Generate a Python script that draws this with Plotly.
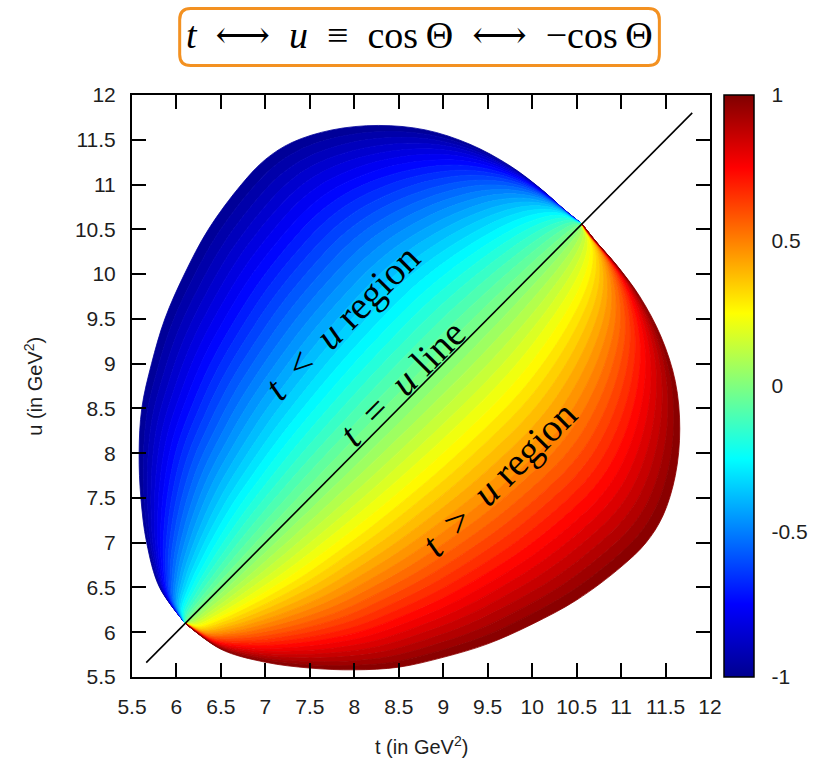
import numpy as np
import plotly.graph_objects as go
import plotly.colors as pcolors

# ---- data ----------------------------------------------------------------
# boundary of the kinematic region, t<u lobe (from lower corner to upper corner);
# the t>u lobe is its mirror image (t <-> u symmetry of the plot)
edge_t = [6.10, 5.81, 5.665, 5.60, 5.58, 5.61, 5.72, 5.87, 6.09, 6.36, 6.73, 7.00,
          7.30, 7.75, 8.27, 8.80, 9.30, 9.75, 10.10, 10.35, 10.56]
edge_u = [6.10, 6.50, 7.00, 7.50, 8.00, 8.50, 9.00, 9.50, 10.00, 10.50, 11.00, 11.28,
          11.47, 11.61, 11.66, 11.61, 11.45, 11.21, 10.95, 10.73, 10.56]

# t = u line end points
diag_t = [5.66, 11.80]
diag_u = [5.66, 11.80]

axis_ticks = [5.5, 6, 6.5, 7, 7.5, 8, 8.5, 9, 9.5, 10, 10.5, 11, 11.5, 12]
cbar_vals = [-1, -0.5, 0, 0.5, 1]
cbar_text = ["-1", "-0.5", "0", "0.5", "1"]
n_levels = 50   # number of colour bands of cos(Theta) drawn (pm3d-like)

# ---- cos(Theta) is linear in (t-u) across each line of constant t+u -----------
edge_p = (np.array(edge_t) + np.array(edge_u)) / 2.0   # position along the diagonal
edge_w = (np.array(edge_u) - np.array(edge_t)) / 2.0   # half width of the region

jet = [[0.0, "rgb(0,0,143)"], [0.125, "rgb(0,0,255)"], [0.375, "rgb(0,255,255)"],
       [0.625, "rgb(255,255,0)"], [0.875, "rgb(255,0,0)"], [1.0, "rgb(128,0,0)"]]

levels = np.linspace(-1.0, 1.0, n_levels + 1)
mids = (levels[:-1] + levels[1:]) / 2.0
band_colors = pcolors.sample_colorscale(jet, list((mids + 1.0) / 2.0))

fig = go.Figure()
for k in range(n_levels):
    c0, c1 = levels[k], levels[k + 1]
    # curve of constant cos = c :  t = p + c*w ,  u = p - c*w
    fx = edge_p + c0 * edge_w
    fy = edge_p - c0 * edge_w
    bx = (edge_p + c1 * edge_w)[::-1]
    by = (edge_p - c1 * edge_w)[::-1]
    xs = np.concatenate([fx, bx[1:]])
    ys = np.concatenate([fy, by[1:]])
    fig.add_trace(go.Scatter(
        x=xs, y=ys, mode="lines", fill="toself", fillcolor=band_colors[k],
        line=dict(color=band_colors[k], width=0.8, shape="spline", smoothing=1.0),
        hoverinfo="skip", showlegend=False))

# colour scale (colour box) of cos(Theta)
fig.add_trace(go.Scatter(
    x=diag_t[:1], y=diag_u[:1], mode="markers", hoverinfo="skip", showlegend=False,
    marker=dict(color=[0], cmin=-1, cmax=1, colorscale=jet, showscale=True, opacity=0,
                size=1,
                colorbar=dict(
                    x=1.0246, xanchor="left", xpad=0, y=0.5, yanchor="middle", len=1.0,
                    ypad=0, thickness=30, outlinewidth=1.5, outlinecolor="black",
                    tickvals=cbar_vals, ticktext=cbar_text, ticks="outside", ticklen=13,
                    tickcolor="rgba(0,0,0,0)",
                    tickfont=dict(family="Liberation Sans, Arial, sans-serif", size=21,
                                  color="#1e1e1e")))))

fig.add_trace(go.Scatter(x=diag_t, y=diag_u, mode="lines",
                         line=dict(color="black", width=1.6), hoverinfo="skip",
                         showlegend=False))

axis_common = dict(
    range=[5.5, 12], tickvals=axis_ticks, ticks="inside", ticklen=14, tickwidth=2,
    tickcolor="black", showline=True, linewidth=2, linecolor="black", mirror="ticks",
    showgrid=False, zeroline=False, ticklabelstandoff=10,
    tickfont=dict(family="Liberation Sans, Arial, sans-serif", size=21, color="#1e1e1e"),
)
fig.update_xaxes(**axis_common)
fig.update_yaxes(**axis_common)

serif = "Liberation Serif, DejaVu Serif, serif"
nb = "\u00a0"
ts = "\u2009"
annotations = [
    dict(text="<i>t</i>" + nb * 2 + "⟷" + nb * 2 + "<i>u</i>" + nb * 2 + "≡" + nb * 2
              + "cos" + ts + "Θ" + nb * 2 + "⟷" + nb * 2 + "−cos" + ts + "Θ",
         x=0.4974, y=1.1030, xref="paper", yref="paper", showarrow=False,
         font=dict(family=serif, size=38, color="black"), xanchor="center", yanchor="middle"),
    dict(text="<i>t</i>" + nb * 2 + "&lt;" + nb * 2 + "<i>u</i> region", x=7.87, y=9.46,
         textangle=-45, showarrow=False, font=dict(family=serif, size=39, color="black")),
    dict(text="<i>t</i>" + nb * 2 + "=" + nb * 2 + "<i>u</i> line", x=8.54, y=8.79,
         textangle=-45, showarrow=False, font=dict(family=serif, size=39, color="black")),
    dict(text="<i>t</i>" + nb * 2 + "&gt;" + nb * 2 + "<i>u</i> region", x=9.63, y=7.71,
         textangle=-45, showarrow=False, font=dict(family=serif, size=39, color="black")),
    dict(text="t (in GeV<sup>2</sup>)", x=0.5, y=-0.1185, xref="paper", yref="paper",
         showarrow=False, xanchor="center", yanchor="middle",
         font=dict(family="Liberation Sans, Arial, sans-serif", size=20, color="#1e1e1e")),
    dict(text="u (in GeV<sup>2</sup>)", x=-0.1718, y=0.5, xref="paper", yref="paper",
         showarrow=False, xanchor="center", yanchor="middle", textangle=-90,
         font=dict(family="Liberation Sans, Arial, sans-serif", size=20, color="#1e1e1e")),
]

# rounded orange frame around the title
x0, x1, yt, yb = 0.0825, 0.9124, 1.1485, 1.0506
rx, ry = 0.019, 0.019
frame = (f"M {x0+rx},{yt} L {x1-rx},{yt} Q {x1},{yt} {x1},{yt-ry} L {x1},{yb+ry} "
         f"Q {x1},{yb} {x1-rx},{yb} L {x0+rx},{yb} Q {x0},{yb} {x0},{yb+ry} "
         f"L {x0},{yt-ry} Q {x0},{yt} {x0+rx},{yt} Z")
shapes = [dict(type="path", path=frame, xref="paper", yref="paper",
               line=dict(color="#F39121", width=3))]
# dashed tick marks on both edges of the colour box
for v in [-0.5, 0, 0.5]:
    yy = (v + 1) / 2
    shapes.append(dict(type="line", xref="paper", yref="paper", x0=1.0246, x1=1.0435,
                       y0=yy, y1=yy, line=dict(color="black", width=2)))
    shapes.append(dict(type="line", xref="paper", yref="paper", x0=1.0572, x1=1.0761,
                       y0=yy, y1=yy, line=dict(color="black", width=2)))

fig.update_layout(
    width=821, height=760, margin=dict(l=132, r=107, t=94.5, b=83),
    paper_bgcolor="white", plot_bgcolor="white", showlegend=False,
    annotations=annotations, shapes=shapes,
)
fig.write_html("out.html")
